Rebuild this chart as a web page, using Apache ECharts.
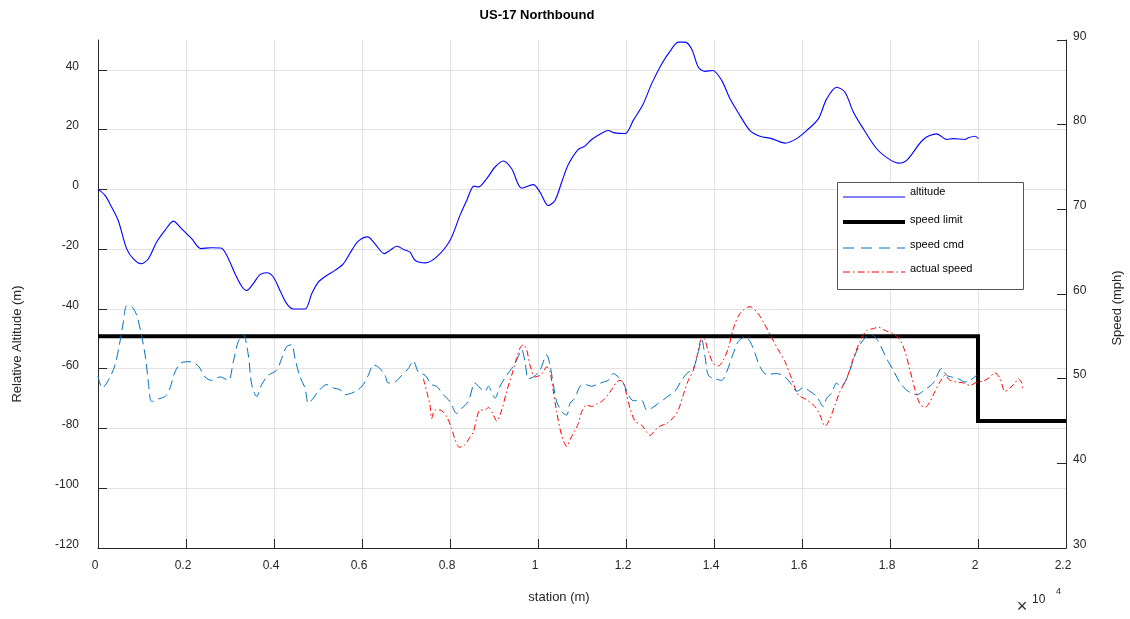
<!DOCTYPE html>
<html>
<head>
<meta charset="utf-8">
<title>US-17 Northbound</title>
<script src="https://cdn.jsdelivr.net/npm/echarts@6/dist/echarts.min.js"></script>
<style>
  html, body { margin: 0; padding: 0; background: #fff; }
  #chart { width: 1130px; height: 619px; }
</style>
</head>
<body>
<div id="chart"></div>
<script>
// Road profile: station (m) vs relative altitude (m)
const altStation = [0,160,310,460,650,800,975,1145,1333,1523,
  1712,1902,2129,2341,2583,2795,2925,3114,3265,3379,
  3530,3682,3834,3985,4136,4288,4439,4705,4857,5007,
  5197,5386,5575,5766,5916,6129,6295,6507,6636,6789,
  6961,7091,7205,7432,7697,8000,8227,8379,8545,8643,
  8834,9023,9211,9402,9630,9893,10045,10234,10386,10538,
  10689,10916,11068,11220,11447,11598,11712,11977,12166,12394,
  12583,12811,13000,13189,13341,13492,13644,13795,13970,14174,
  14364,14591,14818,15045,15311,15614,15879,16106,16371,16561,
  16788,16977,17166,17393,17697,17962,18189,18379,18757,19061,
  19288,19439,19705,19780,19932,20008];
const altitude = [0,-2,-5.9,-10.4,-19.8,-23.2,-24.9,-23.2,-17.6,-13.7,
  -10.6,-13.2,-16.5,-19.8,-19.5,-19.6,-22,-28.2,-32.4,-33.8,
  -31.5,-28.5,-27.9,-29.3,-33.8,-38.2,-40,-40,-34.9,-31,
  -28.8,-27.1,-24.9,-20.4,-17.3,-15.9,-18.2,-21.5,-20.4,-19,
  -20.2,-21,-23.7,-24.6,-22.6,-17.1,-8.7,-3.7,1.1,0.8,
  3.6,7.5,9.5,6.9,0.4,1.6,-0.9,-5.4,-3.7,2.4,
  8.3,13.4,14.5,16.7,18.8,19.7,19,18.7,23.1,28.7,
  35.4,42,46.2,49.3,49.3,47,40.9,39.5,39.8,36.5,
  30.3,24.7,19.7,17.8,17,15.5,17,19.7,23.6,30.3,
  34.2,32.5,25.9,20.3,13.6,10.3,8.8,9.7,16.7,18.6,
  16.7,17,16.7,17.3,17.8,17];

// Posted speed limit (mph)
const limitStation = [0, 20000, 20000, 22000];
const speedLimit = [55, 55, 45, 45];

// Commanded speed (mph)
const cmdStation = [0,98,235,386,500,576,652,766,879,993,
  1083,1144,1220,1371,1523,1636,1750,1902,2091,2280,
  2432,2583,2773,2961,3075,3189,3302,3416,3493,3607,
  3720,3870,4061,4175,4288,4402,4477,4591,4705,4780,
  4893,5007,5197,5348,5500,5614,5766,5916,6030,6143,
  6257,6370,6523,6598,6750,6902,7053,7166,7280,7432,
  7584,7697,7848,8000,8152,8266,8416,8568,8682,8795,
  8870,9023,9136,9288,9402,9514,9630,9705,9780,9893,
  10045,10197,10273,10348,10424,10538,10652,10727,10841,10955,
  11068,11220,11333,11485,11598,11712,11825,11939,12053,12166,
  12356,12470,12583,12735,12848,13000,13114,13227,13379,13530,
  13644,13720,13800,13871,14023,14174,14288,14439,14553,14705,
  14818,14932,15045,15197,15424,15614,15765,15879,16030,16182,
  16333,16484,16561,16674,16788,16864,16977,17091,17205,17318,
  17470,17583,17735,17848,17962,18076,18227,18416,18606,18795,
  18985,19174,19288,19402,19553,19705,19818,19970];
const speedCmd = [50.3,48.9,49.8,51.6,54.4,56.7,58.6,58.5,57.5,55,
  52.4,49.6,47.3,47.6,47.9,48.9,50.8,51.9,52,51.5,
  50.2,49.8,50.2,49.8,52,54.4,55.2,52.8,49.3,47.9,
  49.3,50.4,51,52.4,53.8,54,52.4,50.2,48.9,47.1,
  47.7,48.5,49.3,48.9,48.7,48.1,48.3,48.7,49.3,50.4,
  51.6,51.4,50.4,49.5,49.6,50.4,51.2,52.1,50.8,50.4,
  49.3,49.1,48.1,47.3,45.9,46.5,47.3,49.5,48.9,48.5,
  49.1,47.7,49.1,50.4,51.2,52.2,53.4,52,50,50.2,
  51,52.8,51.6,49.3,47.3,46.1,45.7,47.1,47.7,49.1,
  49.3,49.1,49.3,49.6,49.8,50.6,50.2,49.5,48.1,47.4,
  47.4,46.3,46.5,47.1,47.5,48.1,48.5,49.5,50.6,51.2,
  53.2,54.6,52.5,50.4,50,49.8,50.8,53,54.4,54.9,
  54.4,53,51.4,50.5,50.6,50.2,49.3,48.5,48.9,48.5,
  47.9,46.7,47.7,48.3,49.5,49.1,49.6,51,52.8,54,
  55,55.2,54.4,53.2,52,51,49.5,48.5,48.1,48.7,
  49.5,51.2,50.4,50.2,50,49.6,49.8,50.4];

// Measured vehicle speed (mph)
const actStation = [7394,7470,7545,7584,7659,7773,7924,8038,8114,8212,
  8341,8454,8530,8606,8682,8795,8870,8970,9061,9175,
  9288,9402,9514,9591,9666,9743,9818,9932,10045,10120,
  10197,10273,10348,10424,10538,10652,10727,10841,10916,10993,
  11106,11220,11333,11447,11561,11673,11786,11864,11939,12015,
  12091,12205,12356,12470,12545,12659,12773,12924,13075,13189,
  13303,13416,13530,13620,13700,13770,13871,13985,14098,14212,
  14326,14439,14591,14818,14970,15120,15273,15461,15614,15765,
  15915,16106,16295,16409,16523,16636,16750,16864,17015,17166,
  17318,17470,17621,17735,17886,18076,18227,18341,18455,18568,
  18682,18795,18909,19023,19136,19250,19364,19515,19667,19818,
  19970,20121,20273,20386,20500,20614,20727,20841,20917,20993,
  21015];
const actualSpeed = [50,48.5,46.9,45.3,46.3,46.3,45.5,44.1,42.8,41.9,
  42.2,43.1,43.7,45.3,46.3,46.3,46.6,45.9,45,46.3,
  48.5,50.4,52.4,53.6,54,53.4,51.6,50.2,50.4,50.8,
  51.4,50.8,48.5,46.1,43.3,42,42.8,43.9,44.7,46.1,
  46.9,46.7,47,47.3,47.9,48.7,49.6,49.8,49.5,48.1,
  46.5,45,44.5,43.7,43.3,43.9,44.4,44.7,45.4,46.3,
  48.1,49.8,51,52.8,54.6,54.7,53.2,51.8,51.5,52.2,
  53.6,55.9,57.7,58.5,57.9,56.7,55.2,53.4,52,50,
  48.1,47.5,46.7,45.7,44.4,45.3,46.9,48.5,50,52.4,
  54.4,55.7,55.9,56.1,55.7,55.3,54.6,53.2,51,48.7,
  47,46.6,47.3,48.5,49.6,50.4,49.8,49.6,49.5,49.2,
  49.6,49.7,50.2,50.7,50,48.5,48.9,49.5,50,49.5,
  48.9];

const xTickStep = 2000;
const xMax = 22000;

function pairs(xs, ys) { return xs.map((x, i) => [x, ys[i]]); }

const FONT = "'Liberation Sans', Arial, Helvetica, sans-serif";
const AXIS_COLOR = '#262626';
const GRID_COLOR = '#e2e2e2';

const chart = echarts.init(document.getElementById('chart'), null, { renderer: 'canvas' });

const legendItems = [
  { name: 'altitude', color: '#0000ff', width: 1, dash: null, y: 197, ty: 192 },
  { name: 'speed limit', color: '#000000', width: 4, dash: null, y: 222, ty: 220 },
  { name: 'speed cmd', color: '#0072bd', width: 1, dash: [11, 7], y: 248, ty: 245 },
  { name: 'actual speed', color: '#ff0000', width: 1, dash: [7, 3, 1.5, 3], y: 272, ty: 269 }
];

const graphics = [
  { type: 'text', x: 537, y: 15, z: 100,
    style: { text: 'US-17 Northbound', font: 'bold 13px ' + FONT, fill: '#000', align: 'center', verticalAlign: 'middle' } },
  { type: 'text', x: 17, y: 344, rotation: Math.PI / 2, z: 100,
    style: { text: 'Relative Altitude (m)', font: '13px ' + FONT, fill: '#262626', align: 'center', verticalAlign: 'middle' } },
  { type: 'text', x: 1117, y: 308, rotation: Math.PI / 2, z: 100,
    style: { text: 'Speed (mph)', font: '13px ' + FONT, fill: '#262626', align: 'center', verticalAlign: 'middle' } },
  { type: 'text', x: 559, y: 597, z: 100,
    style: { text: 'station (m)', font: '13px ' + FONT, fill: '#262626', align: 'center', verticalAlign: 'middle' } },
  { type: 'text', x: 1022, y: 607, z: 100,
    style: { text: '\u00d7', font: '18px ' + FONT, fill: '#262626', align: 'center', verticalAlign: 'middle' } },
  { type: 'text', x: 1032, y: 600, z: 100,
    style: { text: '10', font: '12px ' + FONT, fill: '#262626', align: 'left', verticalAlign: 'middle' } },
  { type: 'text', x: 1056, y: 592, z: 100,
    style: { text: '4', font: '9px ' + FONT, fill: '#262626', align: 'left', verticalAlign: 'middle' } },
  { type: 'rect', z: 100,
    shape: { x: 837.5, y: 182.5, width: 186, height: 107 },
    style: { fill: '#ffffff', stroke: '#555555', lineWidth: 1 } }
];
legendItems.forEach(it => {
  graphics.push({ type: 'line', z: 101,
    shape: { x1: 843, y1: it.y, x2: 905, y2: it.y },
    style: { stroke: it.color, lineWidth: it.width, lineDash: it.dash || null } });
  graphics.push({ type: 'text', x: 910, y: it.ty, z: 101,
    style: { text: it.name, font: '11px ' + FONT, fill: '#000', align: 'left', verticalAlign: 'middle' } });
});

const option = {
  animation: false,
  backgroundColor: '#ffffff',
  grid: { left: 98, right: 64, top: 40, bottom: 71, containLabel: false },
  xAxis: {
    type: 'value', min: 0, max: xMax, interval: xTickStep,
    axisLine: { show: true, onZero: false, lineStyle: { color: AXIS_COLOR, width: 1 } },
    axisTick: { show: true, inside: true, length: 9, lineStyle: { color: AXIS_COLOR } },
    axisLabel: {
      color: '#262626', fontFamily: FONT, fontSize: 12, margin: 12, padding: [0, 6, 0, 0],
      formatter: v => String(+(v / 10000).toFixed(1))
    },
    splitLine: { show: true, lineStyle: { color: GRID_COLOR, width: 1 } }
  },
  yAxis: [
    {
      type: 'value', min: -120, max: 50, interval: 20, position: 'left',
      axisLine: { show: true, onZero: false, lineStyle: { color: AXIS_COLOR, width: 1 } },
      axisTick: { show: true, inside: true, length: 9, lineStyle: { color: AXIS_COLOR } },
      axisLabel: { color: '#262626', fontFamily: FONT, fontSize: 12, margin: 19,
        verticalAlign: 'bottom', lineHeight: 7, showMaxLabel: false },
      splitLine: { show: true, showMaxLine: false, lineStyle: { color: GRID_COLOR, width: 1 } }
    },
    {
      type: 'value', min: 30, max: 90, interval: 10, position: 'right',
      axisLine: { show: true, onZero: false, lineStyle: { color: AXIS_COLOR, width: 1 } },
      axisTick: { show: true, inside: true, length: 9, lineStyle: { color: AXIS_COLOR } },
      axisLabel: { color: '#262626', fontFamily: FONT, fontSize: 12, margin: 7,
        verticalAlign: 'bottom', lineHeight: 7 },
      splitLine: { show: false }
    }
  ],
  series: [
    {
      name: 'altitude', type: 'line', yAxisIndex: 0, showSymbol: false, smooth: 0.3,
      data: pairs(altStation, altitude),
      lineStyle: { color: '#0000ff', width: 1.1 }, z: 3
    },
    {
      name: 'speed limit', type: 'line', yAxisIndex: 1, showSymbol: false,
      data: pairs(limitStation, speedLimit),
      lineStyle: { color: '#000000', width: 4, join: 'miter', cap: 'butt' }, z: 2
    },
    {
      name: 'speed cmd', type: 'line', yAxisIndex: 1, showSymbol: false, smooth: 0.3,
      data: pairs(cmdStation, speedCmd),
      lineStyle: { color: '#0072bd', width: 1, type: [10, 5] }, z: 4
    },
    {
      name: 'actual speed', type: 'line', yAxisIndex: 1, showSymbol: false, smooth: 0.3,
      data: pairs(actStation, actualSpeed),
      lineStyle: { color: '#ff0000', width: 1, type: [6, 3, 1.5, 3] }, z: 5
    }
  ],
  graphic: graphics
};

chart.setOption(option);
</script>
</body>
</html>
